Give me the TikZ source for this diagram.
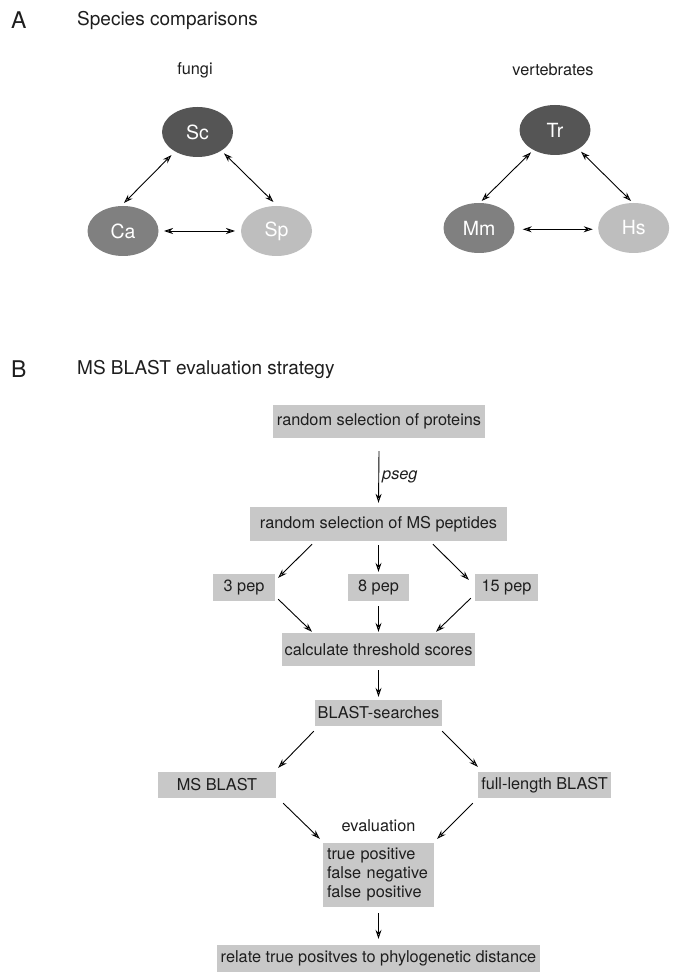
\documentclass[tikz,border=0pt]{standalone}
\usepackage{fontspec}
\setmainfont{TeX Gyre Heros}
\usetikzlibrary{arrows.meta,calc,shapes.geometric}
\definecolor{dkg}{RGB}{85,85,85}
\definecolor{mdg}{RGB}{128,128,128}
\definecolor{ltg}{RGB}{190,190,190}
\definecolor{boxg}{RGB}{200,200,200}
\definecolor{txt}{RGB}{30,30,30}
\tikzset{
  sp/.style={ellipse, minimum width=71pt, minimum height=50pt, inner sep=0pt,
    text=white, font=\fontsize{19.5}{22}\selectfont},
  gbox/.style={fill=boxg, inner sep=0pt, text=txt, align=center,
    font=\fontsize{16.3}{19}\selectfont},
  lbl/.style={text=txt, inner sep=0pt, font=\fontsize{16.3}{19}\selectfont},
  ttl/.style={text=txt, inner sep=0pt, anchor=west, font=\fontsize{19}{22}\selectfont},
  panel/.style={text=txt, inner sep=0pt, anchor=west, font=\fontsize{23}{26}\selectfont},
  arr/.style={line width=0.9pt, -{Stealth[length=9pt,width=6pt,inset=3pt,fill=gray!45]}},
  darr/.style={line width=0.9pt, {Stealth[length=9pt,width=6pt,inset=3pt,fill=gray!45]}-{Stealth[length=9pt,width=6pt,inset=3pt,fill=gray!45]}}
}
\begin{document}
\begin{tikzpicture}[x=1pt,y=-1pt]
\useasboundingbox[fill=white] (0,0) rectangle (673,973);

% Panel A
\node[panel] (pA) at (11,20) {A};
\node[ttl] (tA) at (77,20) {Species comparisons};
\node[lbl] (fungi) at (195,70) {fungi};
\node[lbl] (vert) at (553,70) {vertebrates};

\node[sp, fill=dkg] (Sc) at (197.5,132) {Sc};
\node[sp, fill=mdg] (Ca) at (123,231) {Ca};
\node[sp, fill=ltg] (Sp) at (276.5,231) {Sp};
\node[sp, fill=dkg] (Tr) at (555,130) {Tr};
\node[sp, fill=mdg] (Mm) at (479,228) {Mm};
\node[sp, fill=ltg] (Hs) at (633.7,228) {Hs};

\draw[darr] ($(Sc.center)+(-26,23)$) -- ($(Ca.center)+(1,-28)$);
\draw[darr] ($(Sc.center)+(26.5,21.3)$) -- ($(Sp.center)+(-3,-29)$);
\draw[darr] ($(Ca.center)+(41,0)$) -- ($(Sp.center)+(-41.5,0)$);
\draw[darr] ($(Tr.center)+(-24,22.3)$) -- ($(Mm.center)+(2.7,-27)$);
\draw[darr] ($(Tr.center)+(26,21.7)$) -- ($(Hs.center)+(-2.7,-27)$);
\draw[darr] ($(Mm.center)+(43.7,1.3)$) -- ($(Hs.center)+(-41,1.3)$);

% Panel B
\node[panel] (pB) at (11,369) {B};
\node[ttl] (tB) at (77,369) {MS BLAST evaluation strategy};

\node[gbox, minimum width=212pt, minimum height=33pt] (ptn) at (379,421.5) {random selection of proteins};
\node[gbox, minimum width=257pt, minimum height=34pt] (msp) at (378.5,524) {random selection of MS peptides};
\node[gbox, minimum width=62pt, minimum height=27pt] (p3) at (244,587.5) {3 pep};
\node[gbox, minimum width=61pt, minimum height=27pt] (p8) at (378.5,587.5) {8 pep};
\node[gbox, minimum width=63pt, minimum height=27pt] (p15) at (506.5,587.5) {15 pep};
\node[gbox, minimum width=193pt, minimum height=33pt] (calc) at (378.5,649.5) {calculate threshold scores};
\node[gbox, minimum width=127pt, minimum height=26pt] (bs) at (378.5,713) {BLAST-searches};
\node[gbox, minimum width=118pt, minimum height=26pt] (msb) at (217,785) {MS BLAST};
\node[gbox, minimum width=133pt, minimum height=26pt] (flb) at (544.5,785) {full-length BLAST};
\node[lbl] (eval) at (378.5,826) {evaluation};
\node[gbox, minimum width=111pt, minimum height=64pt, align=left, text width=103pt] (tf) at (378.5,875)
  {true positive\\false negative\\false positive};
\node[gbox, minimum width=323pt, minimum height=27pt] (rel) at (378.5,958.5) {relate true positves to phylogenetic distance};

\draw[arr] ($(ptn.south)+(0,13)$) -- node[lbl, anchor=west, xshift=3pt, font=\fontsize{16.3}{19}\selectfont\itshape] (pseg) {pseg} ($(msp.north)+(0,-4)$);
\draw[arr] ($(msp.south)+(-66.5,3)$) -- ($(p3.north east)+(3,4)$);
\draw[arr] ($(msp.south)+(0,4)$) -- ($(p8.north)+(0,-2)$);
\draw[arr] ($(msp.south)+(54.5,3)$) -- ($(p15.north west)+(-6,6)$);
\draw[arr] ($(p3.south east)+(3,-2)$) -- ($(calc.north)+(-66.5,-1)$);
\draw[arr] ($(p8.south)+(0,5)$) -- ($(calc.north)+(0,-1)$);
\draw[arr] ($(p15.south west)+(-4,-3)$) -- ($(calc.north)+(57.5,-1)$);
\draw[arr] ($(calc.south)+(0,4)$) -- ($(bs.north)+(0,-3)$);
\draw[arr] ($(bs.south west)+(-1,5)$) -- ($(msb.north east)+(2,-4)$);
\draw[arr] ($(bs.south east)+(0,5)$) -- ($(flb.north west)+(0,-5)$);
\draw[arr] ($(msb.south east)+(7,5)$) -- ($(tf.north west)+(-3,-4)$);
\draw[arr] ($(flb.south west)+(-5,5)$) -- ($(tf.north east)+(3,-4)$);
\draw[arr] ($(tf.south)+(0,6)$) -- ($(rel.north)+(0,-6)$);
\end{tikzpicture}
\end{document}
